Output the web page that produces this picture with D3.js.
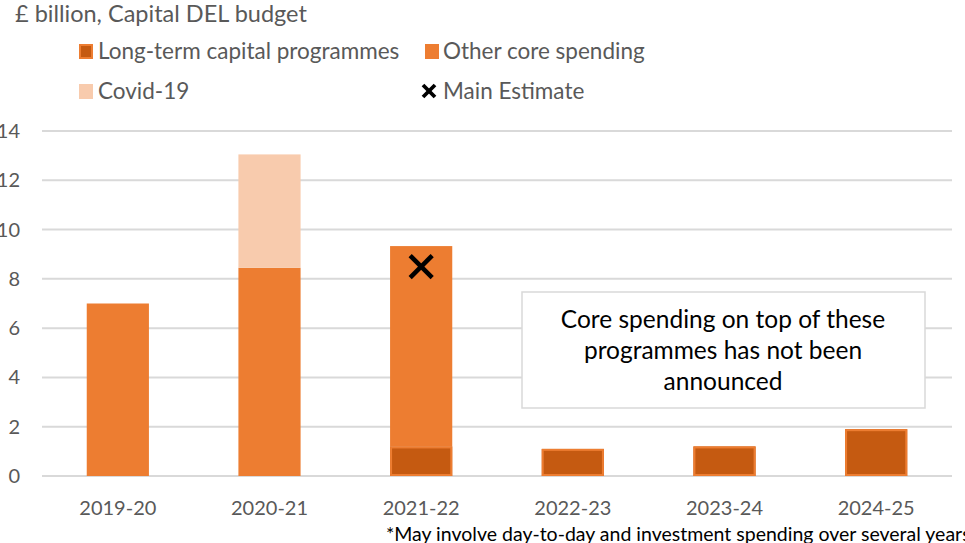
<!DOCTYPE html>
<html><head><meta charset="utf-8">
<script src="https://cdn.jsdelivr.net/npm/d3@7"></script>
<style>body{margin:0;background:#fff;}svg{display:block;font-family:Lato, "Open Sans", sans-serif;}</style>
</head><body><svg id="c" width="965" height="543"></svg>
<script>
const categories = ["2019-20","2020-21","2021-22","2022-23","2023-24","2024-25"];
const longTerm = [0, 0, 1.2, 1.1, 1.2, 1.9];
const otherCore = [7.0, 8.45, 8.13, 0, 0, 0];
const covid = [0, 4.6, 0, 0, 0, 0];
const mainEstimate = [null, null, 8.5, null, null, null];
const yTicks = [0,2,4,6,8,10,12,14];
const seriesNames = ["Long-term capital programmes","Other core spending","Covid-19","Main Estimate"];
const colors = {long:"#C55A11", core:"#ED7D31", covid:"#F8CBAD"};

const svg = d3.select("#c");
const x = d3.scaleBand().domain(categories).range([42,952]).paddingInner(0.59).paddingOuter(0.295);
const y = d3.scaleLinear().domain([0,14]).range([476,131]);

// gridlines
svg.append("g").selectAll("line").data(yTicks).join("line")
  .attr("x1",42).attr("x2",952).attr("y1",d=>y(d)).attr("y2",d=>y(d))
  .attr("stroke","#d9d9d9").attr("stroke-width",2);

// y labels
svg.append("g").selectAll("text").data(yTicks).join("text")
  .attr("x",20).attr("y",d=>y(d)).attr("dy","0.35em").attr("text-anchor","end")
  .attr("fill","#595959").attr("font-size",20).text(d=>d);

// stacked bars
const rows = categories.map((c,i)=>({cat:c, long:longTerm[i], core:otherCore[i], covid:covid[i]}));
const stack = d3.stack().keys(["long","core","covid"])(rows);
stack.forEach(layer=>{
  svg.append("g").selectAll("rect").data(layer.filter(d=>d[1]-d[0]>0)).join("rect")
    .attr("x",d=>x(d.data.cat)).attr("width",x.bandwidth())
    .attr("y",d=>y(d[1])).attr("height",d=>y(d[0])-y(d[1]))
    .attr("fill",colors[layer.key]);
});
// long-term outline
svg.append("g").selectAll("rect").data(rows.filter(d=>d.long>0)).join("rect")
  .attr("x",d=>x(d.cat)+1).attr("width",x.bandwidth()-2)
  .attr("y",d=>y(d.long)+1).attr("height",d=>y(0)-y(d.long)-2)
  .attr("fill",colors.long).attr("stroke",colors.core).attr("stroke-width",2);

// main estimate marker
svg.append("g").selectAll("g").data(categories.map((c,i)=>({c,v:mainEstimate[i]})).filter(d=>d.v!=null)).join("g")
  .attr("transform",d=>`translate(${x(d.c)+x.bandwidth()/2},${y(d.v)})`)
  .each(function(){
    const g=d3.select(this);
    g.append("line").attr("x1",-11).attr("y1",-11).attr("x2",11).attr("y2",11).attr("stroke","#000").attr("stroke-width",4.5);
    g.append("line").attr("x1",-11).attr("y1",11).attr("x2",11).attr("y2",-11).attr("stroke","#000").attr("stroke-width",4.5);
  });

// x labels
svg.append("g").selectAll("text").data(categories).join("text")
  .attr("x",d=>x(d)+x.bandwidth()/2).attr("y",515).attr("text-anchor","middle")
  .attr("fill","#595959").attr("font-size",20).text(d=>d);

// title
svg.append("text").attr("x",15).attr("y",22).attr("fill","#595959").attr("font-size",23.5).text("£ billion, Capital DEL budget");

// legend
const leg = [
  {name:seriesNames[0], type:"long", x:79, y:51},
  {name:seriesNames[1], type:"core", x:425, y:51},
  {name:seriesNames[2], type:"covid", x:79, y:91},
  {name:seriesNames[3], type:"x", x:421, y:91}
];
leg.forEach(l=>{
  const g = svg.append("g").attr("transform",`translate(${l.x},${l.y})`);
  if(l.type==="x"){
    g.append("line").attr("x1",2).attr("y1",-6).attr("x2",14).attr("y2",6).attr("stroke","#000").attr("stroke-width",3.8);
    g.append("line").attr("x1",2).attr("y1",6).attr("x2",14).attr("y2",-6).attr("stroke","#000").attr("stroke-width",3.8);
  } else if(l.type==="long"){
    g.append("rect").attr("x",1).attr("y",-6).attr("width",12).attr("height",13).attr("fill",colors.long).attr("stroke",colors.core).attr("stroke-width",2);
  } else {
    g.append("rect").attr("x",0).attr("y",-7).attr("width",14).attr("height",15).attr("fill",colors[l.type]);
  }
  const tx = l.type==="x" ? 22 : (l.type==="core" ? 18 : 19);
  g.append("text").attr("x",tx).attr("y",0).attr("dy","0.35em").attr("fill","#595959").attr("font-size",22.5).text(l.name);
});

// annotation box
svg.append("rect").attr("x",522).attr("y",292).attr("width",403).attr("height",116)
  .attr("fill","#fff").attr("stroke","#d9d9d9").attr("stroke-width",1.5);
const ann = ["Core spending on top of these","programmes has not been","announced"];
svg.append("g").selectAll("text").data(ann).join("text")
  .attr("x",723).attr("y",(d,i)=>328+i*31).attr("text-anchor","middle")
  .attr("fill","#000").attr("font-size",24.5).text(d=>d);

// footnote
svg.append("text").attr("x",386).attr("y",541).attr("fill","#000").attr("font-size",19.5)
  .text("*May involve day-to-day and investment spending over several years");
</script></body></html>
